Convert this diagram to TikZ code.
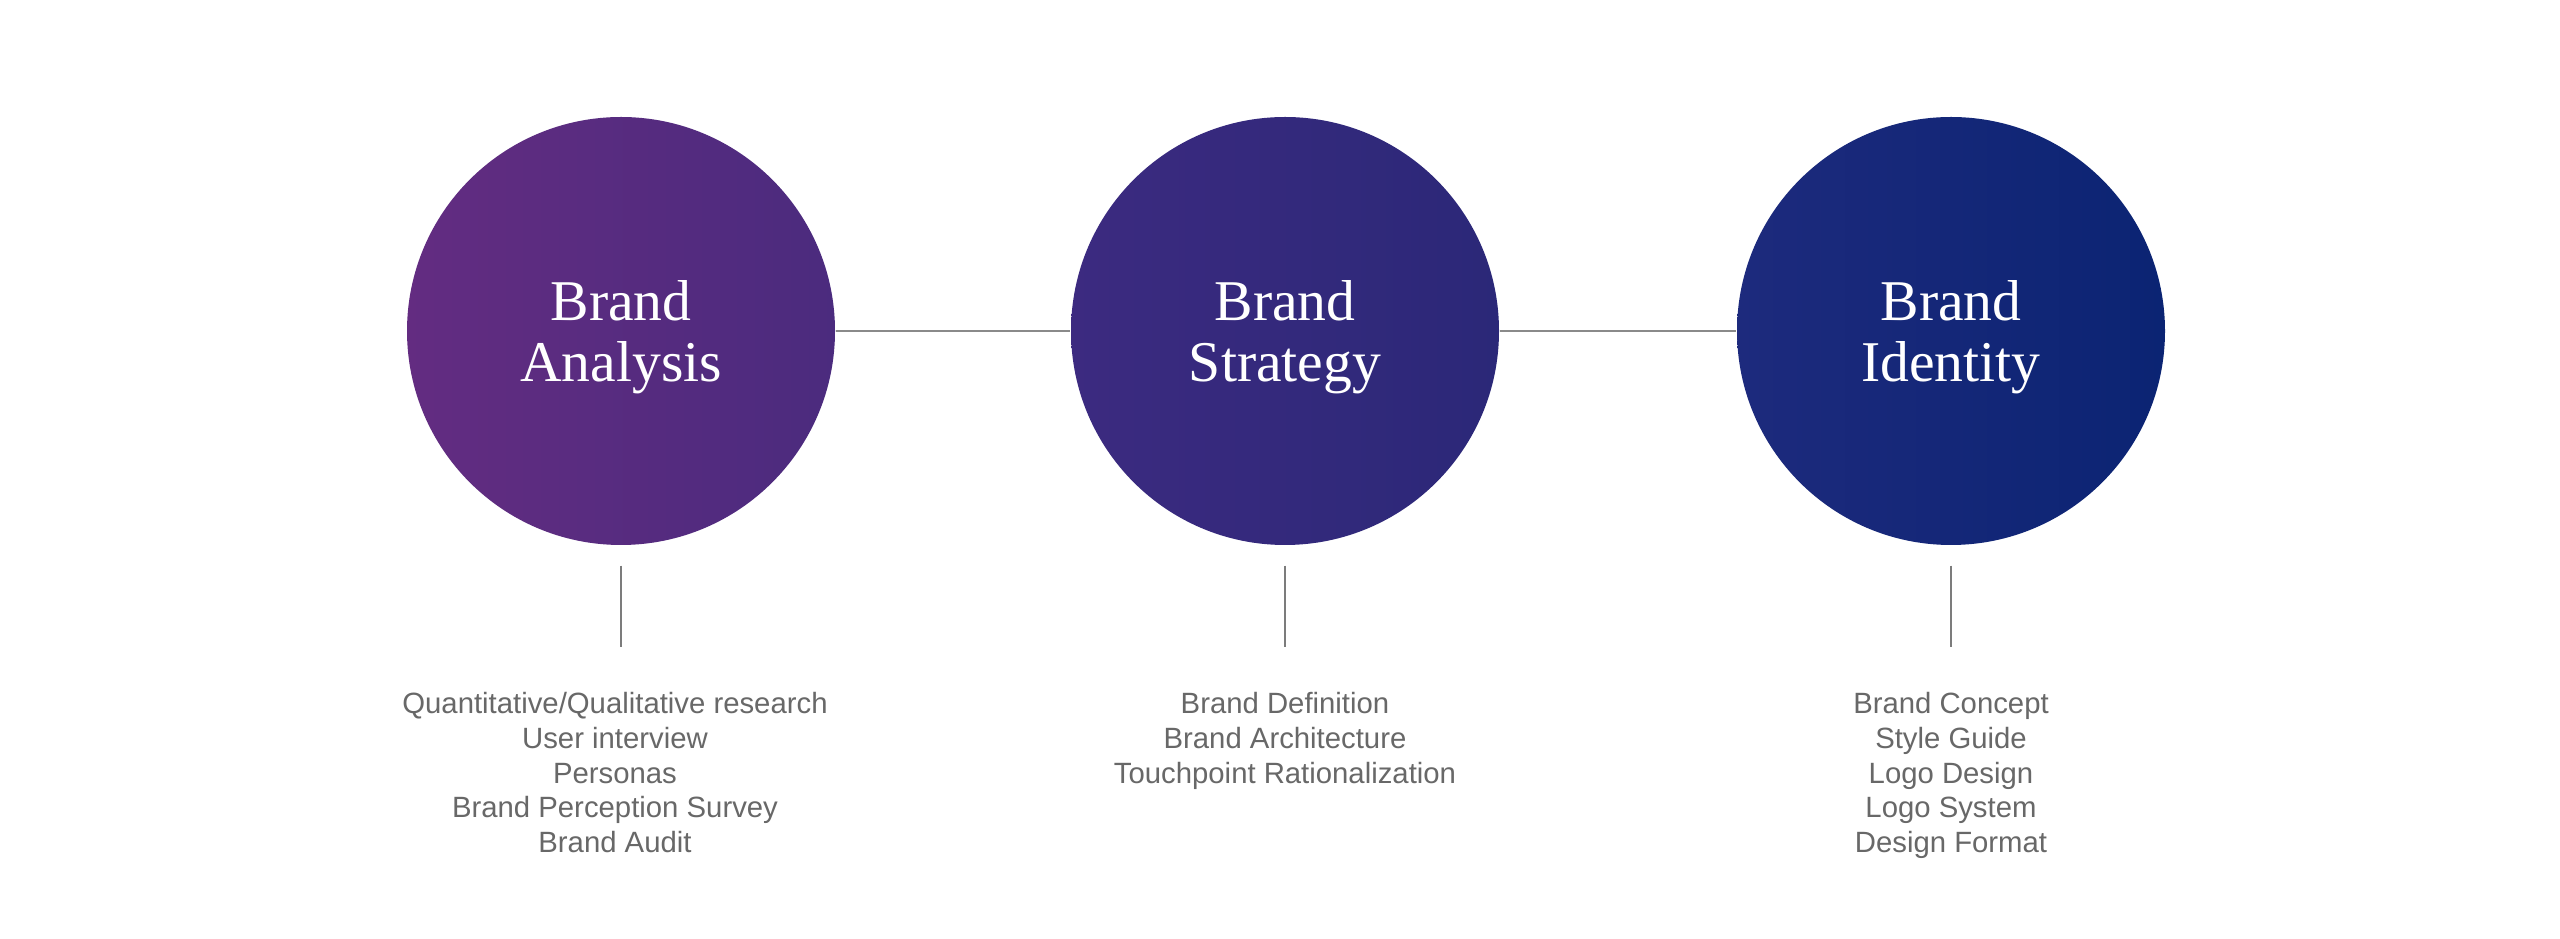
\documentclass[tikz,border=0pt]{standalone}
\usepackage{fontspec}
\setmainfont{Liberation Serif}
\setsansfont{Liberation Sans}
\usetikzlibrary{positioning}
\definecolor{plumL}{HTML}{632C81}
\definecolor{plumR}{HTML}{4B2B7E}
\definecolor{indigoL}{HTML}{3C2A80}
\definecolor{indigoR}{HTML}{2B2878}
\definecolor{navyL}{HTML}{1D2A7D}
\definecolor{navyR}{HTML}{0B2473}
\definecolor{linegray}{HTML}{8A8A8A}
\definecolor{itemgray}{HTML}{686868}

\begin{document}
\begin{tikzpicture}[
  phase/.style={circle,minimum size=4.28cm,inner sep=0pt,align=center,text=white,
    text depth=0pt,font=\fontsize{16.4}{17.1}\selectfont},
  link/.style={draw=linegray,line width=0.55pt},
  items/.style={align=center,inner sep=0pt,text=itemgray,
    font=\sffamily\fontsize{8.34}{9.87}\selectfont}]
  \useasboundingbox[fill=white] (0,0) rectangle (25.6,-9.39);
  % the three phases
  \node[phase,left color=plumL,right color=plumR] (ana) at (6.21,-3.31) {Brand\\Analysis};
  \node[phase,left color=indigoL,right color=indigoR] (str) at (12.85,-3.31) {Brand\\Strategy};
  \node[phase,left color=navyL,right color=navyR] (ide) at (19.51,-3.31) {Brand\\Identity};
  \draw[link] (ana) -- (str);
  \draw[link] (str) -- (ide);
  % ticks and lists
  \foreach \p in {ana,str,ide} {
    \coordinate[below=0.2cm of \p] (\p-t);
    \coordinate[below=0.81cm of \p-t] (\p-b);
    \draw[link,draw=linegray!90!black] (\p-t) -- (\p-b);
  }
  \node[items,below=0.45cm of ana-b,xshift=-0.06cm] (ana-l) {Quantitative/Qualitative research\\User interview\\Personas\\Brand Perception Survey\\Brand Audit};
  \node[items,below=0.45cm of str-b] (str-l) {Brand Definition\\Brand Architecture\\Touchpoint Rationalization};
  \node[items,below=0.45cm of ide-b] (ide-l) {Brand Concept\\Style Guide\\Logo Design\\Logo System\\Design Format};
\end{tikzpicture}
\end{document}
